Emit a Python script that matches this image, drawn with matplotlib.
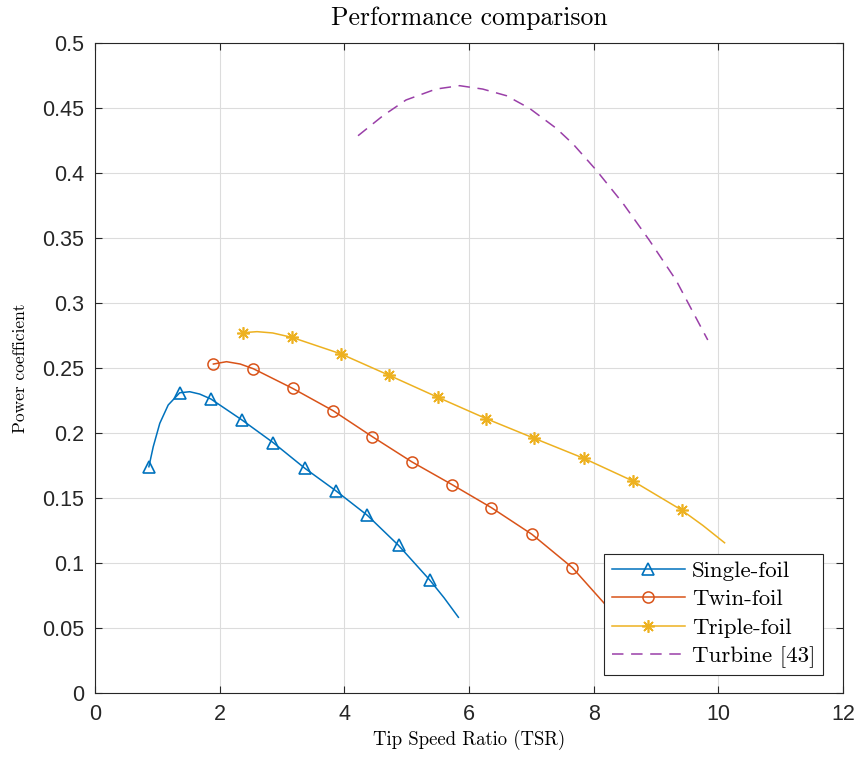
import matplotlib
matplotlib.use("Agg")
import matplotlib.pyplot as plt

# ---- data ----
single_x = [0.865, 0.935, 1.04, 1.175, 1.36, 1.52, 1.68, 1.86, 2.36, 2.86, 3.37, 3.87, 4.37, 4.87, 5.37, 5.60, 5.83]
single_y = [0.1743, 0.1897, 0.2077, 0.2218, 0.2312, 0.232, 0.2302, 0.2264, 0.2102, 0.1928, 0.173, 0.1556, 0.1369, 0.1138, 0.0872, 0.0735, 0.0585]
single_marks = [0, 4, 7, 8, 9, 10, 11, 12, 13, 14]

twin_x = [1.90, 2.11, 2.33, 2.54, 3.17, 3.82, 4.45, 5.085, 5.73, 6.36, 7.01, 7.66, 8.23, 8.70]
twin_y = [0.2533, 0.2551, 0.2533, 0.2497, 0.2346, 0.2174, 0.1974, 0.178, 0.1605, 0.1428, 0.1223, 0.0966, 0.066, 0.040]
twin_marks = [0, 3, 4, 5, 6, 7, 8, 9, 10, 11]

triple_x = [2.37, 2.60, 2.85, 3.16, 3.94, 4.72, 5.50, 6.28, 7.05, 7.84, 8.63, 9.41, 9.75, 10.10]
triple_y = [0.2774, 0.2782, 0.2772, 0.2738, 0.2612, 0.2446, 0.2277, 0.2112, 0.1961, 0.1808, 0.1633, 0.141, 0.1292, 0.1158]
triple_marks = [0, 3, 4, 5, 6, 7, 8, 9, 10, 11]

turbine_x = [4.22, 4.62, 4.99, 5.47, 5.85, 6.22, 6.60, 6.97, 7.40, 7.67, 8.04, 8.47, 8.89, 9.32, 9.83]
turbine_y = [0.4289, 0.4443, 0.4564, 0.4648, 0.4674, 0.4648, 0.4597, 0.450, 0.4346, 0.4225, 0.4025, 0.3769, 0.3487, 0.3179, 0.2718]

xticks = [0, 2, 4, 6, 8, 10, 12]
yticks = [0, 0.05, 0.1, 0.15, 0.2, 0.25, 0.3, 0.35, 0.4, 0.45, 0.5]
ytick_labels = ["0", "0.05", "0.1", "0.15", "0.2", "0.25", "0.3", "0.35", "0.4", "0.45", "0.5"]

# ---- style ----
serif = "cmr10"
plt.rcParams.update({
    "font.family": "Liberation Sans",
    "axes.linewidth": 0.8,
})

fig = plt.figure(figsize=(8.57, 7.57), dpi=100)
ax = fig.add_axes([0.1108, 0.0841, 0.8729, 0.8587])

ax.plot(single_x, single_y, color="#0072BD", lw=1.1, marker="^", markevery=single_marks,
        ms=9, mfc="none", mew=1.2, label="Single-foil")
ax.plot(twin_x, twin_y, color="#D95319", lw=1.1, marker="o", markevery=twin_marks,
        ms=8, mfc="none", mew=1.1, label="Twin-foil")
ax.plot(triple_x, triple_y, color="#EDB120", lw=1.1, marker=(8, 2, 0), markevery=triple_marks,
        ms=9, mew=1.2, label="Triple-foil")
ax.plot(turbine_x, turbine_y, color="#9A3FA8", lw=1.1, dashes=(7.5, 5), label="Turbine [43]")

ax.set_xlim(0, 12)
ax.set_ylim(0, 0.5)
ax.set_xticks(xticks)
ax.set_xticklabels([str(v) for v in xticks])
ax.set_yticks(yticks)
ax.set_yticklabels(ytick_labels)
ax.tick_params(direction="in", length=5, width=0.8, labelsize=15.5, colors="#262626",
               top=True, right=True, pad=8)
ax.grid(True, color="#DCDCDC", lw=0.8)
ax.set_axisbelow(True)
for s in ax.spines.values():
    s.set_color("#262626")

ax.set_title("Performance comparison", fontfamily=serif, fontsize=18.5, pad=13)
ax.set_xlabel("Tip Speed Ratio (TSR)", fontfamily=serif, fontsize=13.5, labelpad=3)
ax.set_ylabel("Power coefficient", fontfamily=serif, fontsize=12.5, labelpad=10)

leg = ax.legend(loc="lower right", bbox_to_anchor=(0.973, 0.028), borderaxespad=0,
                prop={"family": serif, "size": 16.5}, fancybox=False, framealpha=1,
                edgecolor="#262626", handlelength=3.2, handletextpad=0.3,
                labelspacing=0.36, borderpad=0.32)
leg.get_frame().set_linewidth(0.8)

fig.savefig("out.png", dpi=100)
